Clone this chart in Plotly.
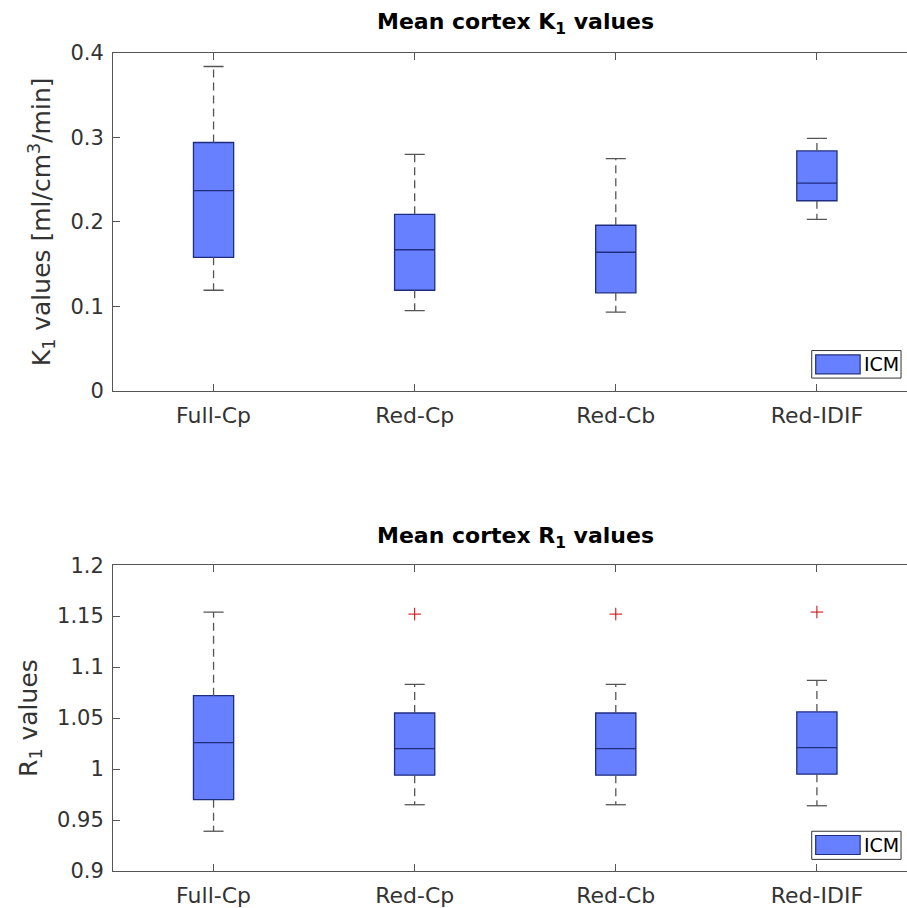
import plotly.graph_objects as go

# Reconstruction methods on the x axis
methods = ["Full-Cp", "Red-Cp", "Red-Cb", "Red-IDIF"]
positions = [1, 2, 3, 4]

# Mean cortex K1 box statistics [ml/cm3/min]
k1_lower = [0.119, 0.095, 0.093, 0.203]
k1_q1 = [0.158, 0.119, 0.116, 0.225]
k1_median = [0.237, 0.167, 0.164, 0.246]
k1_q3 = [0.294, 0.209, 0.196, 0.284]
k1_upper = [0.384, 0.280, 0.275, 0.299]
k1_outliers = [None, None, None, None]

# Mean cortex R1 box statistics
r1_lower = [0.939, 0.965, 0.965, 0.964]
r1_q1 = [0.970, 0.994, 0.994, 0.995]
r1_median = [1.026, 1.020, 1.020, 1.021]
r1_q3 = [1.072, 1.055, 1.055, 1.056]
r1_upper = [1.154, 1.083, 1.083, 1.087]
r1_outliers = [None, 1.152, 1.152, 1.154]

k1_ticks = [0, 0.1, 0.2, 0.3, 0.4]
k1_ticktext = ["0", "0.1", "0.2", "0.3", "0.4"]
r1_ticks = [0.9, 0.95, 1.0, 1.05, 1.1, 1.15, 1.2]
r1_ticktext = ["0.9", "0.95", "1", "1.05", "1.1", "1.15", "1.2"]

FONT = "DejaVu Sans"
TEXT = "#333333"
AXIS = "#555555"
FILL = "#6680ff"
EDGE = "#1f2d80"
WHISK = "#555555"
BOX_W = 0.2
CAP_HALF = 0.05

fig = go.Figure()


def add_panel(xa, ya, lower, q1, med, q3, upper, outliers):
    fig.add_trace(go.Box(
        x=positions, q1=q1, median=med, q3=q3,
        lowerfence=q1, upperfence=q3,
        width=BOX_W, whiskerwidth=0,
        fillcolor=FILL, line=dict(color=EDGE, width=1.3),
        boxpoints=False, showlegend=False,
        xaxis=xa, yaxis=ya, name="ICM",
    ))
    # dashed whiskers
    wx, wy = [], []
    for p, lo, a, b, hi in zip(positions, lower, q1, q3, upper):
        wx += [p, p, None, p, p, None]
        wy += [b, hi, None, a, lo, None]
    fig.add_trace(go.Scatter(
        x=wx, y=wy, mode="lines",
        line=dict(color=WHISK, width=1.3, dash="8px,5px"),
        showlegend=False, hoverinfo="skip", xaxis=xa, yaxis=ya,
    ))
    # whisker caps
    cx, cy = [], []
    for p, lo, hi in zip(positions, lower, upper):
        cx += [p - CAP_HALF, p + CAP_HALF, None, p - CAP_HALF, p + CAP_HALF, None]
        cy += [hi, hi, None, lo, lo, None]
    fig.add_trace(go.Scatter(
        x=cx, y=cy, mode="lines",
        line=dict(color=WHISK, width=1.3),
        showlegend=False, hoverinfo="skip", xaxis=xa, yaxis=ya,
    ))
    # outliers
    ox = [p for p, o in zip(positions, outliers) if o is not None]
    oy = [o for o in outliers if o is not None]
    if ox:
        fig.add_trace(go.Scatter(
            x=ox, y=oy, mode="markers",
            marker=dict(symbol="cross-thin", size=9, line=dict(color="#cc0000", width=1)),
            showlegend=False, xaxis=xa, yaxis=ya,
        ))


add_panel("x", "y", k1_lower, k1_q1, k1_median, k1_q3, k1_upper, k1_outliers)
add_panel("x2", "y2", r1_lower, r1_q1, r1_median, r1_q3, r1_upper, r1_outliers)

xcommon = dict(
    range=[0.5, 4.448], tickmode="array", tickvals=positions, ticktext=methods,
    showline=True, linecolor=AXIS, linewidth=1, mirror="ticks",
    ticks="inside", ticklen=7, tickcolor=AXIS, showgrid=False, zeroline=False,
    tickfont=dict(family=FONT, size=22, color=TEXT), ticklabelstandoff=5,
)
ycommon = dict(
    showline=True, linecolor=AXIS, linewidth=1, mirror=False,
    ticks="inside", ticklen=7, tickcolor=AXIS, showgrid=False, zeroline=False,
    tickfont=dict(family=FONT, size=21, color=TEXT), ticklabelstandoff=4,
)

fig.update_layout(
    width=907, height=908,
    margin=dict(l=113, r=0, t=53, b=34),
    plot_bgcolor="white", paper_bgcolor="white",
    showlegend=False,
    xaxis=dict(domain=[0, 1], anchor="y", **xcommon),
    xaxis2=dict(domain=[0, 1], anchor="y2", **xcommon),
    yaxis=dict(domain=[0.5871, 1], anchor="x", range=[0, 0.4],
               tickmode="array", tickvals=k1_ticks, ticktext=k1_ticktext,
               title=dict(text="K<sub>1</sub> values [ml/cm<sup>3</sup>/min]",
                          font=dict(family=FONT, size=25, color=TEXT), standoff=12),
               **ycommon),
    yaxis2=dict(domain=[0, 0.3739], anchor="x2", range=[0.9, 1.2],
                tickmode="array", tickvals=r1_ticks, ticktext=r1_ticktext,
                title=dict(text="R<sub>1</sub> values",
                           font=dict(family=FONT, size=25, color=TEXT), standoff=12),
                **ycommon),
)

# panel titles
for yref, txt, shift in [("y domain", "Mean cortex K<sub>1</sub> values", 30),
                         ("y2 domain", "Mean cortex R<sub>1</sub> values", 28)]:
    fig.add_annotation(
        xref="paper", yref=yref, x=0.507, y=1, yanchor="middle", xanchor="center",
        yshift=shift, showarrow=False, text="<b>" + txt + "</b>",
        font=dict(family=FONT, size=22, color="black"),
    )

# legend boxes (lower right of each panel)
legend_boxes = [
    ("x domain", "y domain", (0.880, 0.9925, 0.0375, 0.119), (0.885, 0.941, 0.050, 0.106)),
    ("x2 domain", "y2 domain", (0.880, 0.9925, 0.038, 0.130), (0.885, 0.941, 0.054, 0.116)),
]
for xr, yr, frame, patch in legend_boxes:
    fig.add_shape(type="rect", xref=xr, yref=yr,
                  x0=frame[0], x1=frame[1], y0=frame[2], y1=frame[3],
                  line=dict(color="#333333", width=1), fillcolor="white", layer="above")
    fig.add_shape(type="rect", xref=xr, yref=yr,
                  x0=patch[0], x1=patch[1], y0=patch[2], y1=patch[3],
                  line=dict(color=EDGE, width=1.2), fillcolor=FILL, layer="above")
    fig.add_annotation(xref=xr, yref=yr, x=patch[1] + 0.002, y=(patch[2] + patch[3]) / 2,
                       xanchor="left", yanchor="middle", showarrow=False, text="ICM",
                       font=dict(family=FONT, size=19, color="black"))

fig.write_html("out.html")
